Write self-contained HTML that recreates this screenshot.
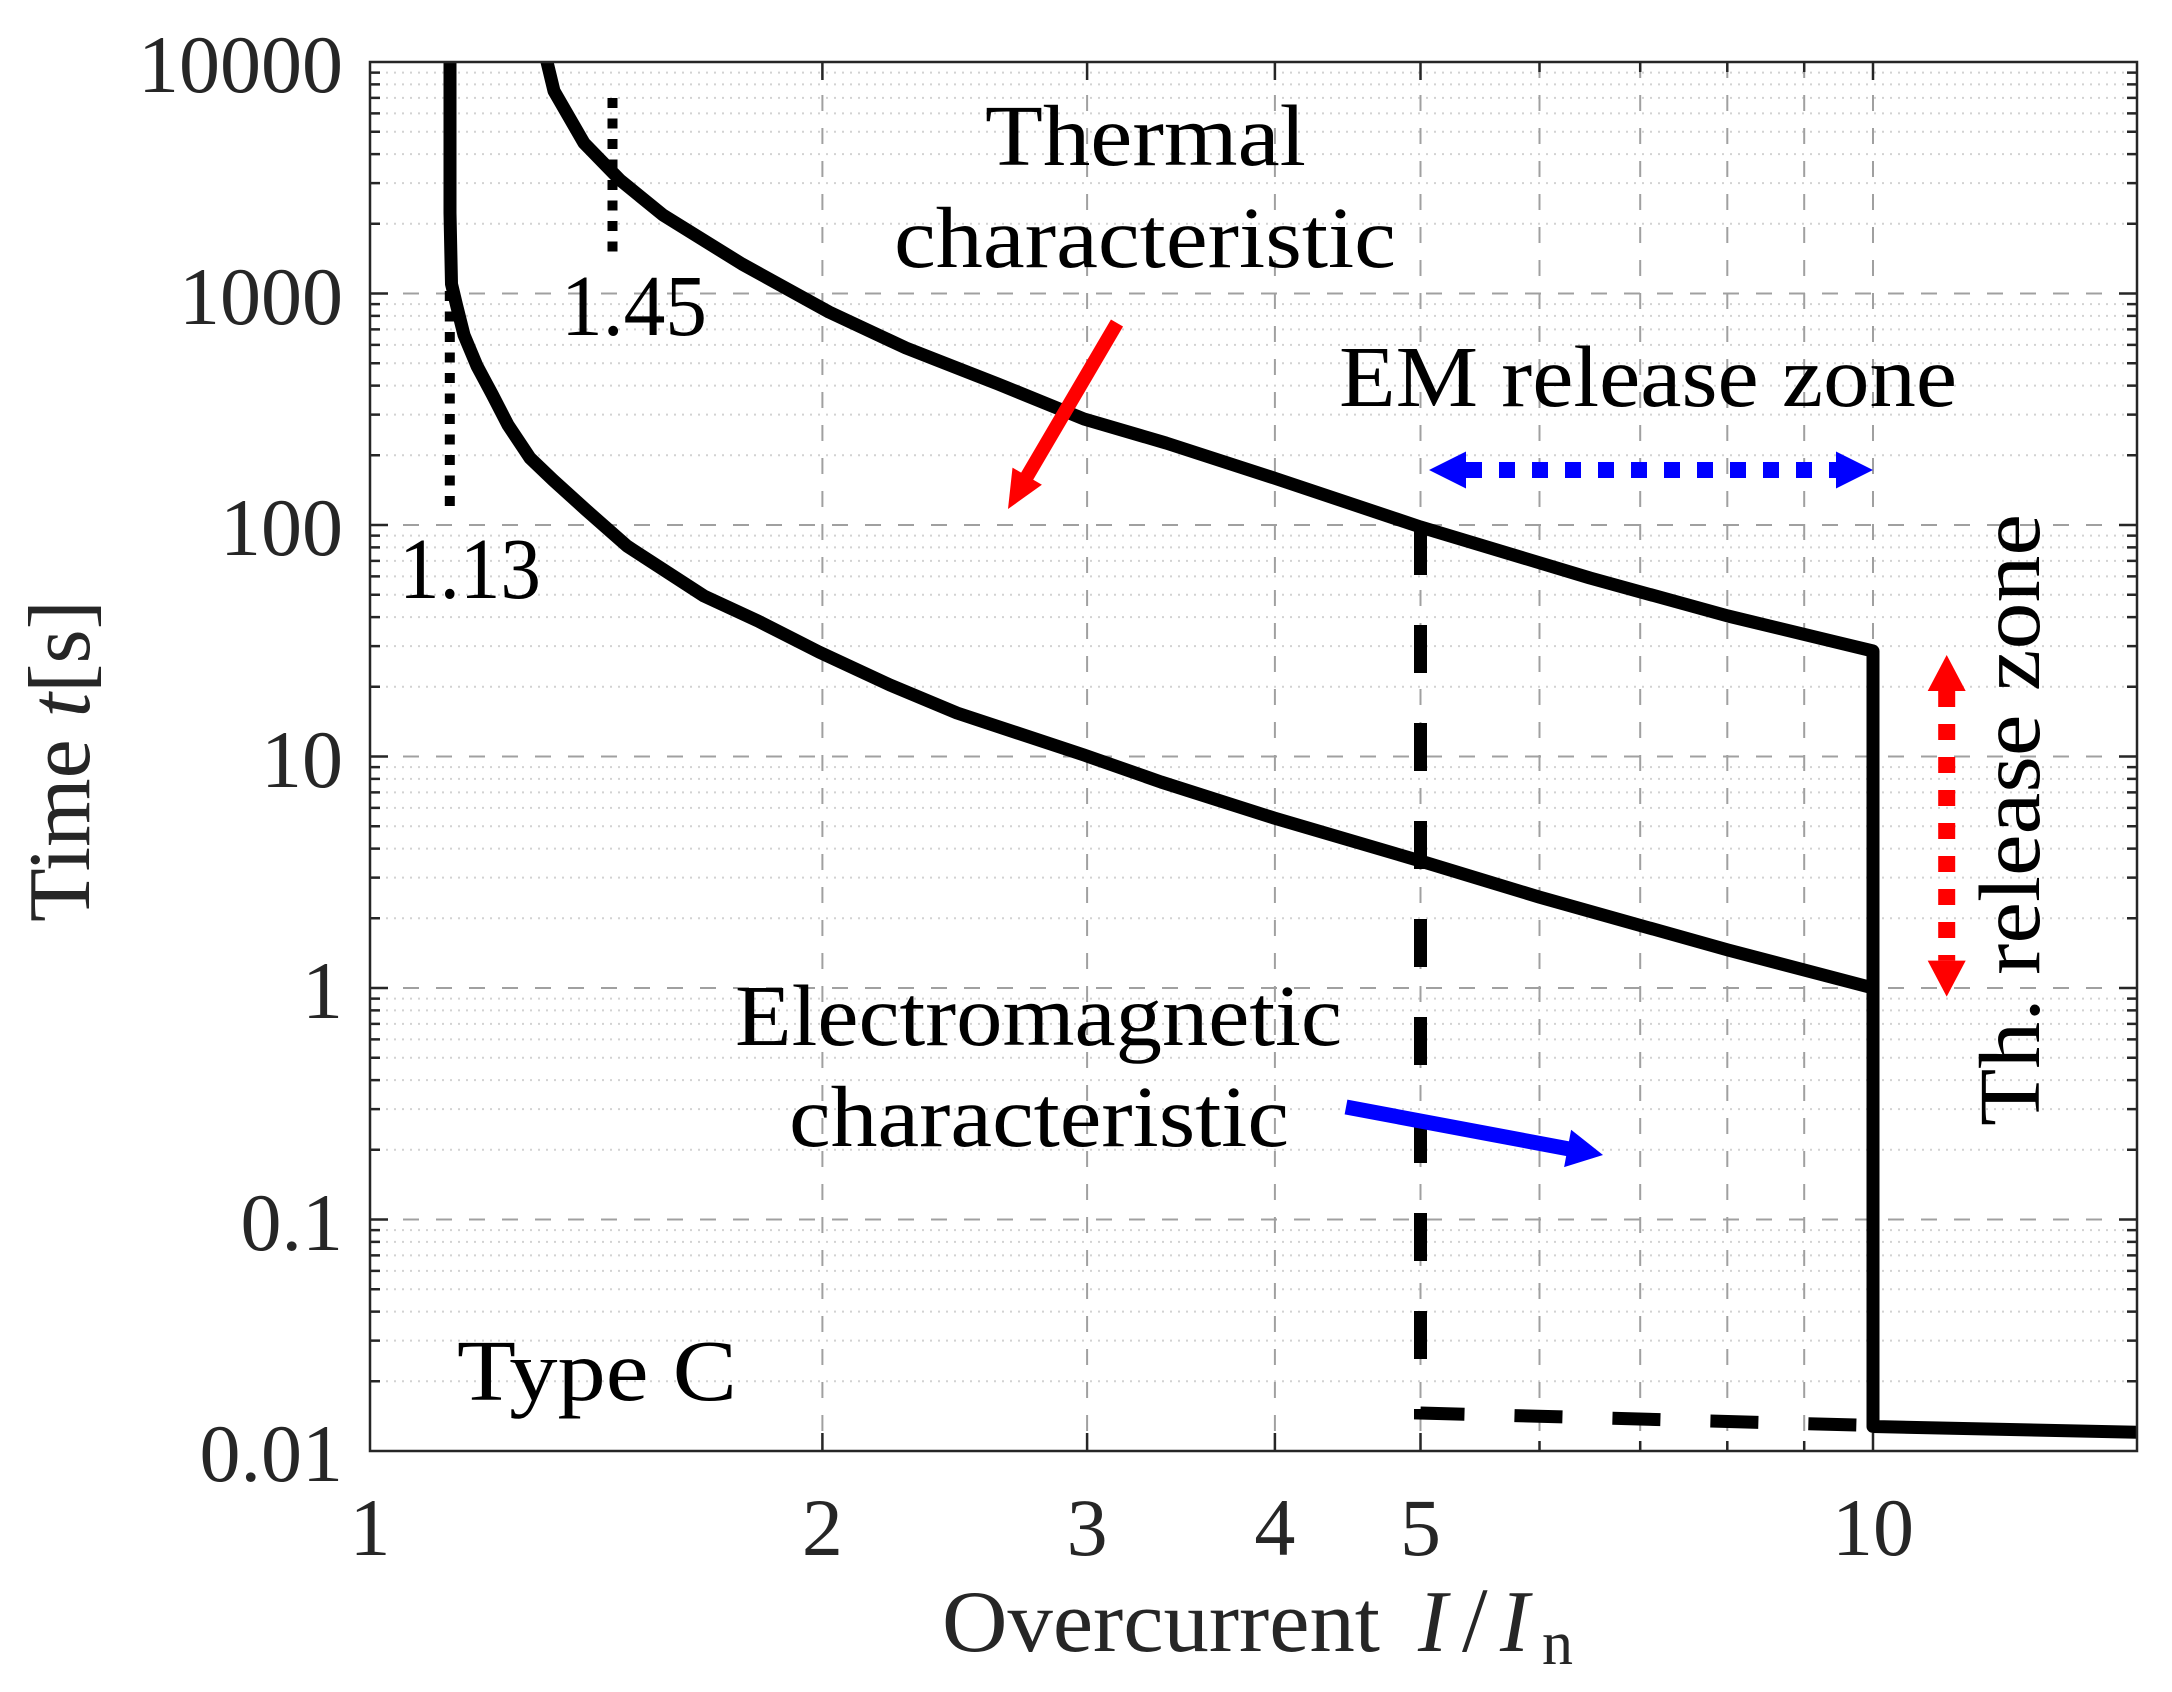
<!DOCTYPE html>
<html>
<head>
<meta charset="utf-8">
<style>
html,body{margin:0;padding:0;background:#fff;}
svg{display:block;}
</style>
</head>
<body>
<svg width="2172" height="1692" viewBox="0 0 2172 1692" xmlns="http://www.w3.org/2000/svg" font-family="'Liberation Serif', 'DejaVu Serif', serif">
<defs>
<clipPath id="ax"><rect x="370" y="62" width="1767" height="1389"/></clipPath>
</defs>
<rect width="2172" height="1692" fill="#fff"/>

<g clip-path="url(#ax)">
<!-- minor horizontal grid (dotted) -->
<path fill="none" stroke="#d2d2d2" stroke-width="2" stroke-dasharray="2 6" d="
M370 1381.3H2137M370 1340.6H2137M370 1311.6H2137M370 1289.2H2137M370 1270.9H2137M370 1255.4H2137M370 1241.9H2137M370 1230.1H2137
M370 1149.8H2137M370 1109.1H2137M370 1080.1H2137M370 1057.7H2137M370 1039.4H2137M370 1023.9H2137M370 1010.4H2137M370 998.6H2137
M370 918.3H2137M370 877.6H2137M370 848.6H2137M370 826.2H2137M370 807.9H2137M370 792.4H2137M370 778.9H2137M370 767.1H2137
M370 686.8H2137M370 646.1H2137M370 617.1H2137M370 594.7H2137M370 576.4H2137M370 560.9H2137M370 547.4H2137M370 535.6H2137
M370 455.3H2137M370 414.6H2137M370 385.6H2137M370 363.2H2137M370 344.9H2137M370 329.4H2137M370 315.9H2137M370 304.1H2137
M370 223.8H2137M370 183.1H2137M370 154.1H2137M370 131.7H2137M370 113.4H2137M370 97.9H2137M370 84.4H2137M370 72.6H2137"/>
<!-- major grid (dashed) -->
<path fill="none" stroke="#a0a0a0" stroke-width="2" stroke-dasharray="16 17" d="
M370 293.5H2137M370 525H2137M370 756.5H2137M370 988H2137M370 1219.5H2137
M822.4 62V1451M1087.1 62V1451M1274.9 62V1451M1420.5 62V1451M1539.5 62V1451M1640.2 62V1451M1727.3 62V1451M1804.2 62V1451M1873 62V1451"/>

<!-- dotted markers 1.13 and 1.45 -->
<path fill="none" stroke="#000" stroke-width="10" stroke-dasharray="10 10.5" d="M612.5 98V252"/>
<path fill="none" stroke="#000" stroke-width="10" stroke-dasharray="10 10.5" d="M449.8 291V507"/>

<!-- dashed EM curve -->
<path fill="none" stroke="#000" stroke-width="13" stroke-dasharray="48 50" stroke-linejoin="miter" d="M1420.5 527L1420.5 1413L1873 1425.5"/>

<!-- lower thermal curve -->
<path fill="none" stroke="#000" stroke-width="13" stroke-linejoin="round" d="M450 50L450 213L451.5 284L456.5 305L464 335L477 366L492 394L508 425L530 458L553 480L585 509L627 546L704 596L758 621L819 652L890 685L957 713L1084 755L1161 782L1274 818L1420.5 861L1539 897L1728 950L1873 988"/>

<!-- upper thermal curve + EM vertical + horizontal -->
<path fill="none" stroke="#000" stroke-width="13" stroke-linejoin="round" d="M545 50L547 62L554 91L584 143L620 180L663 215L742 264L829 312L906 348L998 384L1084 419L1166 443L1274 478L1420.5 527L1590 578L1728 616L1873 651L1873 1426.5L2150 1432.5"/>
</g>

<!-- axes box -->
<rect x="370" y="62" width="1767" height="1389" fill="none" stroke="#262626" stroke-width="2.5"/>
<!-- y ticks major -->
<path fill="none" stroke="#262626" stroke-width="2.5" d="
M370 293.5h18M370 525h18M370 756.5h18M370 988h18M370 1219.5h18
M2137 293.5h-18M2137 525h-18M2137 756.5h-18M2137 988h-18M2137 1219.5h-18"/>
<!-- y ticks minor -->
<path fill="none" stroke="#262626" stroke-width="2.5" d="
M370 1381.3h10M370 1340.6h10M370 1311.6h10M370 1289.2h10M370 1270.9h10M370 1255.4h10M370 1241.9h10M370 1230.1h10
M370 1149.8h10M370 1109.1h10M370 1080.1h10M370 1057.7h10M370 1039.4h10M370 1023.9h10M370 1010.4h10M370 998.6h10
M370 918.3h10M370 877.6h10M370 848.6h10M370 826.2h10M370 807.9h10M370 792.4h10M370 778.9h10M370 767.1h10
M370 686.8h10M370 646.1h10M370 617.1h10M370 594.7h10M370 576.4h10M370 560.9h10M370 547.4h10M370 535.6h10
M370 455.3h10M370 414.6h10M370 385.6h10M370 363.2h10M370 344.9h10M370 329.4h10M370 315.9h10M370 304.1h10
M370 223.8h10M370 183.1h10M370 154.1h10M370 131.7h10M370 113.4h10M370 97.9h10M370 84.4h10M370 72.6h10
M2137 1381.3h-10M2137 1340.6h-10M2137 1311.6h-10M2137 1289.2h-10M2137 1270.9h-10M2137 1255.4h-10M2137 1241.9h-10M2137 1230.1h-10
M2137 1149.8h-10M2137 1109.1h-10M2137 1080.1h-10M2137 1057.7h-10M2137 1039.4h-10M2137 1023.9h-10M2137 1010.4h-10M2137 998.6h-10
M2137 918.3h-10M2137 877.6h-10M2137 848.6h-10M2137 826.2h-10M2137 807.9h-10M2137 792.4h-10M2137 778.9h-10M2137 767.1h-10
M2137 686.8h-10M2137 646.1h-10M2137 617.1h-10M2137 594.7h-10M2137 576.4h-10M2137 560.9h-10M2137 547.4h-10M2137 535.6h-10
M2137 455.3h-10M2137 414.6h-10M2137 385.6h-10M2137 363.2h-10M2137 344.9h-10M2137 329.4h-10M2137 315.9h-10M2137 304.1h-10
M2137 223.8h-10M2137 183.1h-10M2137 154.1h-10M2137 131.7h-10M2137 113.4h-10M2137 97.9h-10M2137 84.4h-10M2137 72.6h-10"/>
<!-- x ticks -->
<path fill="none" stroke="#262626" stroke-width="2.5" d="
M822.4 1451v-18M1087.1 1451v-18M1274.9 1451v-18M1420.5 1451v-18M1873 1451v-18
M1539.5 1451v-10M1640.2 1451v-10M1727.3 1451v-10M1804.2 1451v-10
M822.4 62v18M1087.1 62v18M1274.9 62v18M1420.5 62v18M1873 62v18
M1539.5 62v10M1640.2 62v10M1727.3 62v10M1804.2 62v10"/>

<!-- y tick labels -->
<g fill="#262626" font-size="82" text-anchor="end">
<text x="343" y="92">10000</text>
<text x="343" y="324">1000</text>
<text x="343" y="555">100</text>
<text x="343" y="787">10</text>
<text x="343" y="1018">1</text>
<text x="343" y="1250">0.1</text>
<text x="343" y="1481">0.01</text>
</g>
<!-- x tick labels -->
<g fill="#262626" font-size="82" text-anchor="middle">
<text x="370" y="1555">1</text>
<text x="822.4" y="1555">2</text>
<text x="1087.1" y="1555">3</text>
<text x="1274.9" y="1555">4</text>
<text x="1420.5" y="1555">5</text>
<text x="1873" y="1555">10</text>
</g>

<!-- axis labels -->
<g fill="#262626" font-size="88">
<text x="942" y="1651" textLength="438" lengthAdjust="spacingAndGlyphs">Overcurrent</text>
<text x="1418" y="1651" font-style="italic">I</text>
<text x="1462" y="1651" font-size="92">/</text>
<text x="1500" y="1651" font-style="italic">I</text>
<text x="1542" y="1664" font-size="62">n</text>
<text transform="translate(89,922) rotate(-90)" textLength="322" lengthAdjust="spacingAndGlyphs">Time <tspan font-style="italic">t</tspan>[s]</text>
</g>

<!-- annotations -->
<g fill="#000" font-size="87">
<text x="985" y="165" textLength="321" lengthAdjust="spacingAndGlyphs">Thermal</text>
<text x="894" y="267" textLength="502" lengthAdjust="spacingAndGlyphs">characteristic</text>
<text x="561" y="335" textLength="146" lengthAdjust="spacingAndGlyphs">1.45</text>
<text x="399" y="598" textLength="142" lengthAdjust="spacingAndGlyphs">1.13</text>
<text x="1339" y="406" textLength="618" lengthAdjust="spacingAndGlyphs">EM release zone</text>
<text x="735" y="1045" textLength="607" lengthAdjust="spacingAndGlyphs">Electromagnetic</text>
<text x="789" y="1146" textLength="500" lengthAdjust="spacingAndGlyphs">characteristic</text>
<text x="457" y="1400" textLength="280" lengthAdjust="spacingAndGlyphs">Type C</text>
<text transform="translate(2039,1126) rotate(-90)" textLength="612" lengthAdjust="spacingAndGlyphs">Th. release zone</text>
</g>

<!-- red thermal arrow -->
<path d="M1117 323L1022 485" stroke="#ff0000" stroke-width="14" fill="none"/>
<polygon points="1008,509 1041.9,484.8 1012.5,467.6" fill="#ff0000"/>

<!-- blue EM arrow -->
<path d="M1346 1107L1572 1149.5" stroke="#0000ff" stroke-width="15" fill="none"/>
<polygon points="1603,1155 1571.1,1129.7 1564.1,1167.1" fill="#0000ff"/>

<!-- blue dotted double arrow -->
<path d="M1466 470H1836" stroke="#0000ff" stroke-width="16" stroke-dasharray="16 17" fill="none"/>
<polygon points="1429,470 1466,451.5 1466,488.5" fill="#0000ff"/>
<polygon points="1873,470 1836,451.5 1836,488.5" fill="#0000ff"/>

<!-- red dotted double arrow -->
<path d="M1946.7 691V960.6" stroke="#ff0000" stroke-width="17" stroke-dasharray="16 17" fill="none"/>
<polygon points="1946.7,655 1927.7,691 1965.7,691" fill="#ff0000"/>
<polygon points="1946.7,996.6 1927.7,960.6 1965.7,960.6" fill="#ff0000"/>
</svg>
</body>
</html>
